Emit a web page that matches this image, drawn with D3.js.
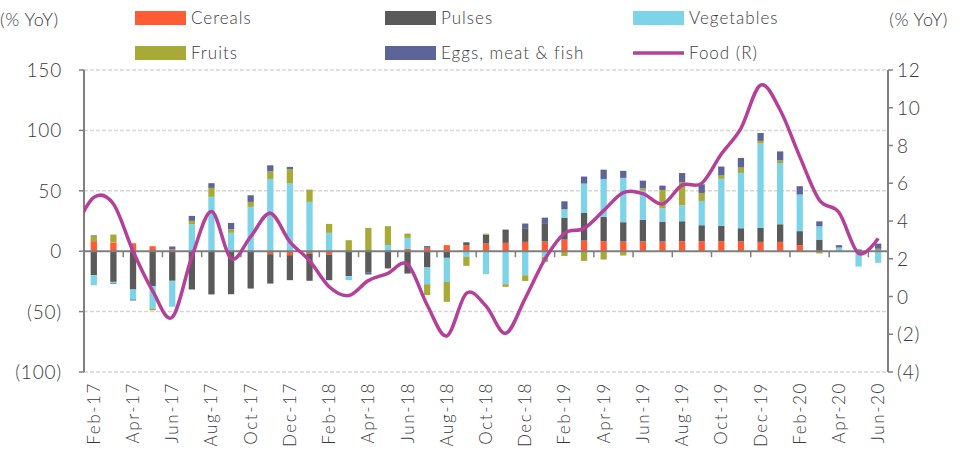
<!DOCTYPE html>
<html>
<head>
<meta charset="utf-8">
<script src="https://cdn.jsdelivr.net/npm/d3@7"></script>
<style>
  body { margin: 0; background: #fff; }
  text { font-family: Lato, "Open Sans", sans-serif; font-weight: 300; fill: #3a3a3a; }
</style>
</head>
<body>
<script>
let width = 960
let height = 455
let margin = {top: 70, right: 68, bottom: 83, left: 84}

let months = ["Feb-17","Mar-17","Apr-17","May-17","Jun-17","Jul-17","Aug-17","Sep-17","Oct-17","Nov-17","Dec-17",
    "Jan-18","Feb-18","Mar-18","Apr-18","May-18","Jun-18","Jul-18","Aug-18","Sep-18","Oct-18","Nov-18","Dec-18",
    "Jan-19","Feb-19","Mar-19","Apr-19","May-19","Jun-19","Jul-19","Aug-19","Sep-19","Oct-19","Nov-19","Dec-19",
    "Jan-20","Feb-20","Mar-20","Apr-20","May-20","Jun-20"]

let cereals = [8.3,7.2,6.6,4.1,1.4,0,0,0,0,-2.5,-3.3,
    -1.9,-2.8,0,0,0,1.9,2.8,5.0,5.0,6.3,6.9,7.7,
    8.0,9.6,8.8,8.3,8.0,8.0,8.0,8.3,8.3,8.3,8.0,7.7,
    7.7,5.0,0,0,0,0]
let pulses = [-19.9,-25.4,-31.7,-29.0,-24.5,-31.7,-35.8,-35.6,-30.9,-24.3,-20.7,
    -22.6,-21.2,-20.7,-17.4,-14.3,-18.5,-13.5,-5.5,1.9,7.4,11.0,10.8,
    14.6,18.2,22.9,20.1,16.0,17.9,16.5,16.5,13.2,12.7,11.0,11.6,
    14.6,11.6,9.6,0,1.4,0.5]
let vegetables = [-8.3,-1.0,-8.3,-18.5,-21.5,22.3,45.0,15.2,36.7,59.8,56.0,
    40.8,15.2,-3.3,0,5.0,9.1,-13.8,-19.9,-4.7,-19.0,-27.3,-19.9,
    -4.7,6.9,24.3,31.4,36.7,24.3,11.0,13.2,20.1,38.9,45.8,69.8,
    50.7,30.3,11.0,3.0,-12.7,-9.6]
let fruits = [4.4,6.6,0,-1.4,0,2.8,7.4,3.0,4.1,6.3,11.9,
    10.2,7.4,9.1,19.3,15.7,3.6,-9.1,-16.5,-7.4,0.8,-2.2,-4.7,
    -4.1,-3.9,-8.0,-6.9,-3.6,1.9,15.2,19.3,6.6,2.8,4.4,2.2,
    2.2,0,-1.9,0,0,1.5]
let eggs = [0.5,-0.6,-0.8,0,2.5,4.1,3.9,5.2,5.5,5.0,1.9,
    0,0,0,-1.9,0,0,1.4,0,0.6,0,0,4.4,
    5.2,6.6,5.8,7.7,5.8,6.3,3.6,7.4,7.2,7.4,8.0,6.6,
    7.4,6.9,4.1,2.0,0,4.3]
// food inflation, right axis; the line also carries Jan-17 which is cut by the axis
let foodJan17 = 3.5
let food = [5.25,4.9,2.4,0.3,-1.1,2.1,4.5,2.0,3.17,4.41,2.9,
    1.9,0.52,0.05,0.84,1.23,1.7,-0.45,-2.09,0.17,-0.5,-1.95,-0.1,
    1.97,3.35,3.61,4.55,5.5,5.45,4.9,5.9,6.0,7.55,8.91,11.2,
    9.88,7.41,5.11,4.45,2.29,3.08]

let leftTicks = [150,100,50,0,-50,-100]
let rightTicks = [12,10,8,6,4,2,0,-2,-4]

let keys = ["Cereals","Pulses","Vegetables","Fruits","Eggs, meat & fish"]
let colors = {"Cereals":"#FF5C35","Pulses":"#5A5A5A","Vegetables":"#7DD3E7","Fruits":"#A8AA38","Eggs, meat & fish":"#5D6598"}
let lineColor = "#B5409A"
let axisColor = "#7f7f7f"

let fmt = (v) => v < 0 ? "(" + Math.abs(v) + ")" : "" + v

let rows = months.map((m, i) => ({
    month: m,
    "Cereals": cereals[i],
    "Pulses": pulses[i],
    "Vegetables": vegetables[i],
    "Fruits": fruits[i],
    "Eggs, meat & fish": eggs[i]
}))

let x0 = margin.left
let x1 = width - margin.right - 4
let yTop = margin.top
let yBot = height - margin.bottom

let x = d3.scaleBand().domain(months).range([x0, x1]).paddingInner(0.68).paddingOuter(0.34)
let yL = d3.scaleLinear().domain([-100, 150]).range([yBot, yTop])
let yR = d3.scaleLinear().domain([-4, 12]).range([yBot, yTop])

let svg = d3.select("body").append("svg")
    .attr("width", width)
    .attr("height", height)

svg.append("defs").append("clipPath").attr("id", "plotclip")
    .append("rect")
    .attr("x", x0).attr("y", 0)
    .attr("width", x1 - x0).attr("height", height)

// gridlines
svg.append("g").selectAll("line")
    .data(leftTicks.filter(t => t != 0))
    .join("line")
    .attr("x1", x0).attr("x2", x1)
    .attr("y1", d => yL(d)).attr("y2", d => yL(d))
    .attr("stroke", "#d6d6d6")
    .attr("stroke-width", 1.5)
    .attr("stroke-dasharray", "4,2")

// bars
let series = d3.stack().keys(keys).offset(d3.stackOffsetDiverging)(rows)

svg.append("g").selectAll("g")
    .data(series)
    .join("g")
    .attr("fill", d => colors[d.key])
    .selectAll("rect")
    .data(d => d)
    .join("rect")
    .attr("x", d => x(d.data.month))
    .attr("width", x.bandwidth())
    .attr("y", d => yL(Math.max(d[0], d[1])))
    .attr("height", d => Math.abs(yL(d[0]) - yL(d[1])))

// zero line + month ticks
svg.append("line")
    .attr("x1", x0).attr("x2", x1)
    .attr("y1", yL(0)).attr("y2", yL(0))
    .attr("stroke", axisColor).attr("stroke-width", 2)

svg.append("g").selectAll("line")
    .data(months.filter((m, i) => i % 2 == 0 && i > 0))
    .join("line")
    .attr("x1", d => x(d) - x.step() * 0.34)
    .attr("x2", d => x(d) - x.step() * 0.34)
    .attr("y1", yL(0)).attr("y2", yL(0) + 6)
    .attr("stroke", axisColor).attr("stroke-width", 1.5)

// x labels
svg.append("g").selectAll("text")
    .data(months.filter((m, i) => i % 2 == 0))
    .join("text")
    .attr("transform", d => "translate(" + (x(d) + x.bandwidth() / 2 + 6) + "," + (yBot + 10) + ") rotate(-90)")
    .attr("text-anchor", "end")
    .attr("font-size", 17)
    .attr("letter-spacing", 1.6)
    .text(d => d)

// left axis
let leftAxis = svg.append("g")
leftAxis.append("line")
    .attr("x1", x0).attr("x2", x0).attr("y1", yTop).attr("y2", yBot)
    .attr("stroke", axisColor).attr("stroke-width", 2)
leftAxis.selectAll(".tk").data(leftTicks).join("line")
    .attr("class", "tk")
    .attr("x1", x0 - 5).attr("x2", x0)
    .attr("y1", d => yL(d)).attr("y2", d => yL(d))
    .attr("stroke", axisColor).attr("stroke-width", 1.5)
leftAxis.selectAll("text").data(leftTicks).join("text")
    .attr("x", x0 - 22).attr("y", d => yL(d) + 7)
    .attr("text-anchor", "end")
    .attr("font-size", 19)
    .attr("letter-spacing", 0.8)
    .text(fmt)

// right axis
let rightAxis = svg.append("g")
rightAxis.append("line")
    .attr("x1", x1).attr("x2", x1).attr("y1", yTop).attr("y2", yBot)
    .attr("stroke", axisColor).attr("stroke-width", 2)
rightAxis.selectAll(".tk").data(rightTicks).join("line")
    .attr("class", "tk")
    .attr("x1", x1).attr("x2", x1 + 5)
    .attr("y1", d => yR(d)).attr("y2", d => yR(d))
    .attr("stroke", axisColor).attr("stroke-width", 1.5)
rightAxis.selectAll("text").data(rightTicks).join("text")
    .attr("x", x1 + 9).attr("y", d => yR(d) + 7)
    .attr("font-size", 19)
    .attr("letter-spacing", 0.8)
    .text(fmt)

// food line
let linePts = [{x: x(months[0]) + x.bandwidth() / 2 - x.step(), v: foodJan17}]
    .concat(food.map((v, i) => ({x: x(months[i]) + x.bandwidth() / 2, v: v})))

svg.append("path")
    .datum(linePts)
    .attr("clip-path", "url(#plotclip)")
    .attr("fill", "none")
    .attr("stroke", lineColor)
    .attr("stroke-width", 3.5)
    .attr("d", d3.line().x(d => d.x).y(d => yR(d.v)).curve(d3.curveCatmullRom.alpha(0)))

// axis titles
svg.append("text").attr("x", 0).attr("y", 26).attr("font-size", 18).attr("letter-spacing", 0.5).text("(% YoY)")
svg.append("text").attr("x", 948).attr("y", 26).attr("text-anchor", "end").attr("font-size", 18).attr("letter-spacing", 0.5).text("(% YoY)")

// legend
let legendItems = [
    {name: "Cereals", x: 135, y: 18},
    {name: "Pulses", x: 385, y: 18},
    {name: "Vegetables", x: 633, y: 18},
    {name: "Fruits", x: 135, y: 53},
    {name: "Eggs, meat & fish", x: 385, y: 53},
    {name: "Food (R)", x: 633, y: 53, line: true}
]
let legend = svg.append("g").selectAll("g").data(legendItems).join("g")
    .attr("transform", d => "translate(" + d.x + "," + d.y + ")")
legend.filter(d => !d.line).append("rect")
    .attr("x", 0).attr("y", -7).attr("width", 51).attr("height", 14)
    .attr("fill", d => colors[d.name])
legend.filter(d => d.line).append("line")
    .attr("x1", 0).attr("x2", 51).attr("y1", 0).attr("y2", 0)
    .attr("stroke", lineColor).attr("stroke-width", 3.5)
legend.append("text")
    .attr("x", 56).attr("y", 6)
    .attr("font-size", 17)
    .attr("letter-spacing", 1)
    .text(d => d.name)
</script>
</body>
</html>
